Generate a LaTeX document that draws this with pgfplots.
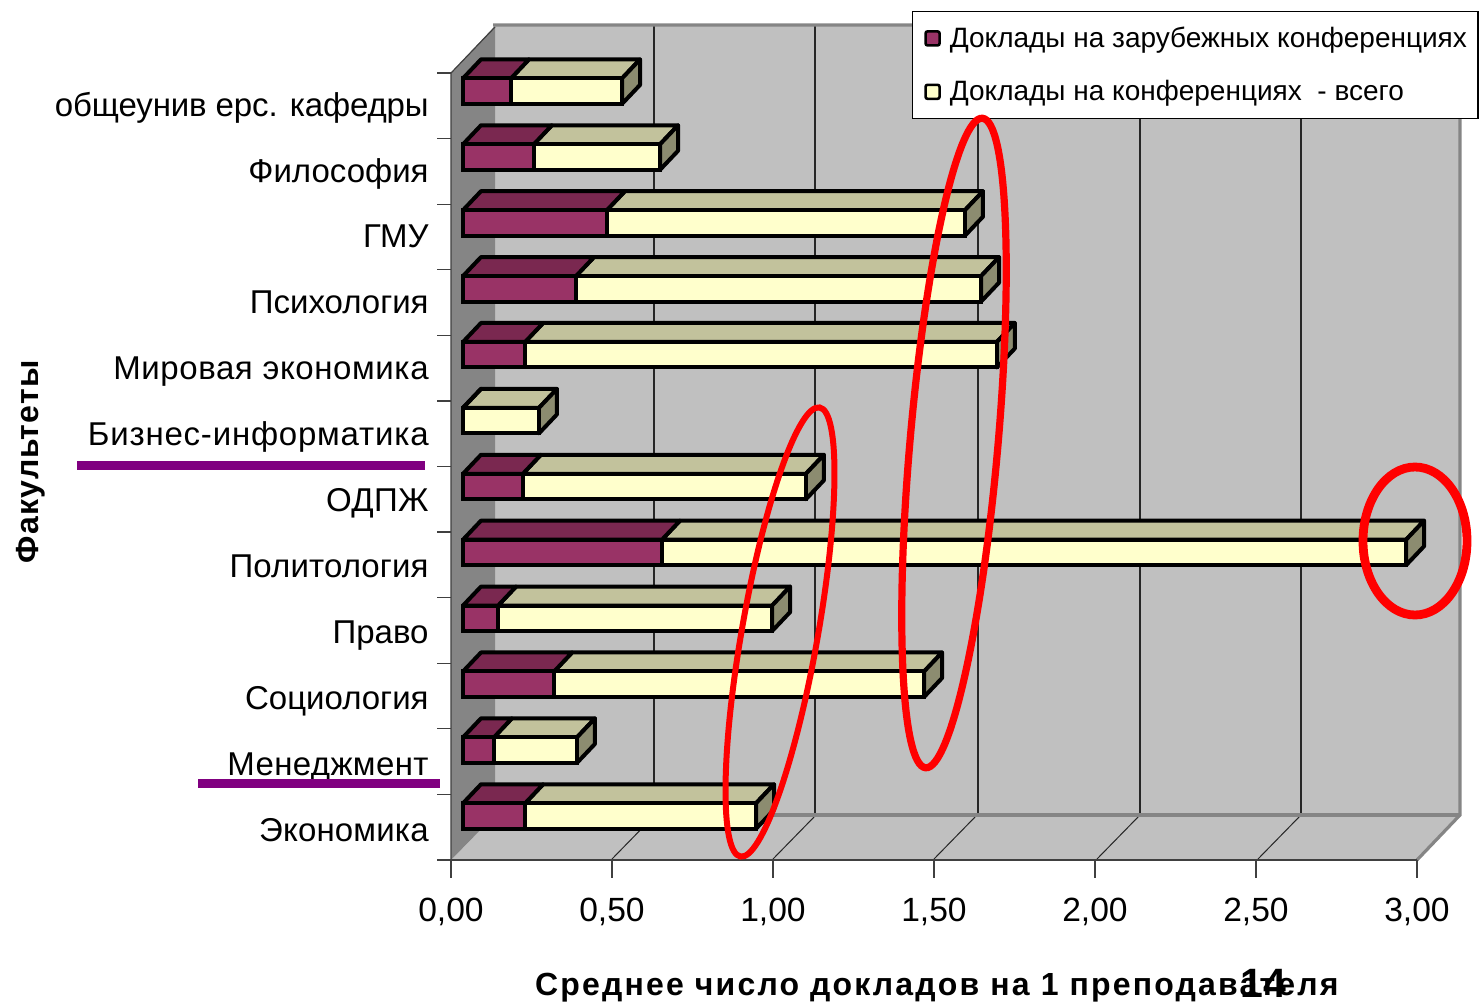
\documentclass[border=0pt]{standalone}
\usepackage{pgfplots}
\pgfplotsset{compat=1.18}
\usepackage{pgfplotstable}
\usepackage{fontspec}
\setmainfont{Liberation Sans}
\definecolor{wallB}{HTML}{C0C0C0}
\definecolor{wallL}{HTML}{858585}
\definecolor{edgeG}{HTML}{858585}
\definecolor{frontP}{HTML}{993366}
\definecolor{topP}{HTML}{7A2850}
\definecolor{frontY}{HTML}{FFFFCC}
\definecolor{topY}{HTML}{C2C29C}
\definecolor{sideY}{HTML}{8C8C70}
\definecolor{under}{HTML}{800080}
\pgfplotstableread{
y purple total
11 0.149 0.494
10 0.220 0.612
9 0.447 1.559
8 0.351 1.609
7 0.193 1.658
6 0.000 0.236
5 0.186 1.065
4 0.618 2.929
3 0.109 0.960
2 0.283 1.432
1 0.096 0.354
0 0.193 0.910
}\reportdata
\newcommand\depthbar[3]{%
  \pgfmathsetmacro\yf{#1+0.1935}%
  \pgfmathsetmacro\yb{#1+0.1935+0.288}%
  \pgfmathsetmacro\yl{#1-0.1935}%
  \pgfmathsetmacro\ylb{#1-0.1935+0.288}%
  \pgfmathsetmacro\xo{0.0559}%
  \pgfmathsetmacro\xa{#2+0.0559}%
  \pgfmathsetmacro\xb{#3+0.0559}%
  \addplot[forget plot,fill=topY,draw=black,line width=2pt,line join=round] coordinates {(#2,\yf) (#3,\yf) (\xb,\yb) (\xa,\yb) (#2,\yf)};
  \addplot[forget plot,fill=topP,draw=black,line width=2pt,line join=round] coordinates {(0,\yf) (#2,\yf) (\xa,\yb) (\xo,\yb) (0,\yf)};
  \addplot[forget plot,fill=sideY,draw=black,line width=2pt,line join=round] coordinates {(#3,\yf) (\xb,\yb) (\xb,\ylb) (#3,\yl) (#3,\yf)};
}
\begin{document}
\begin{tikzpicture}
\useasboundingbox (0,0) rectangle (740pt,-501pt);
\begin{scope}[x=0.5pt,y=-0.5pt]
  \fill[wallB] (495,26) rectangle (1460,815);
  \fill[wallB] (451,860) -- (495,815) -- (1460,815) -- (1417,860) -- cycle;
  \fill[wallL] (451,73) -- (495,26) -- (495,815) -- (451,860) -- cycle;
  \foreach \gx in {654,815,978,1140,1301}
    \draw[black!85,line width=0.75pt] (\gx,26) -- (\gx,815);
  \foreach \a/\b in {612/654,773/815,934/976,1097/1139,1258/1300}
    \draw[black!85,line width=0.5pt] (\a,859) -- (\b,816);
  \draw[edgeG,line width=1.6pt] (493,25) -- (1460,25) -- (1460,815) -- (1417,860);
  \draw[edgeG,line width=1.6pt] (495,815) -- (1460,815);
  \draw[black!75,line width=0.6pt] (451,860) -- (451,73) -- (495,27);
  \draw[black!75,line width=1pt] (437,860) -- (1417,860);
  \foreach \k in {0,...,12}
    \draw[black!75,line width=0.6pt] (437,{73+65.58*\k}) -- (451,{73+65.58*\k});
  \foreach \k in {0,...,6}
    \draw[black!75,line width=0.6pt] ({451+322*0.5*\k},860) -- ({451+322*0.5*\k},878);
\end{scope}
\begin{axis}[
  at={(0,0)},anchor=north west,
  scale only axis,width=740pt,height=501pt,
  xmin=-1.4379,xmax=3.1584,ymin=-2.8225,ymax=12.3824,
  clip=false,
  axis line style={draw=none},
  major tick length=0pt,tick style={draw=none},
  xtick={-0.0373,0.4627,0.9627,1.4627,1.9627,2.4627,2.9627},
  xticklabels={{0,00},{0,50},{1,00},{1,50},{2,00},{2,50},{3,00}},
  xticklabel style={font=\fontsize{16.8}{18}\selectfont,anchor=base,yshift=40.5pt,inner sep=0pt},
  ytick={0,...,11},
  yticklabels={{\addfontfeature{LetterSpace=0.5}Экономика},{\addfontfeature{LetterSpace=1.2}Менеджмент},Социология,Право,{\addfontfeature{LetterSpace=0.4}Политология},{\addfontfeature{LetterSpace=1}ОДПЖ\hspace{2pt}},{\addfontfeature{LetterSpace=2.4}Бизнес-информатика},{\addfontfeature{LetterSpace=1.8}Мировая экономика},Психология,ГМУ,Философия,{\addfontfeature{LetterSpace=-0.4}общеунив ерс. кафедры}},
  yticklabel style={font=\fontsize{16.5}{18}\selectfont,anchor=base east,xshift=214.5pt,yshift=-12.5pt,inner sep=0pt},
  xlabel={\addfontfeature{LetterSpace=6.8}Среднее число докладов на 1 преподавателя},
  xlabel style={font=\fontsize{16}{18}\bfseries\selectfont,at={(axis description cs:0.633,0.0140)},anchor=center,inner sep=0pt},
  ylabel={\addfontfeature{LetterSpace=4}Факультеты},
  ylabel style={font=\fontsize{16}{18}\bfseries\selectfont,at={(axis description cs:0.0209,0.539)},anchor=center,rotate=0,inner sep=0pt},
  reverse legend,
  legend cell align=left,
  legend style={at={(axis description cs:0.6162,0.989)},anchor=north west,font=\fontsize{14}{16}\selectfont,draw=black,line width=0.6pt,fill=white,row sep=11pt,inner xsep=3.5pt,inner ysep=5.5pt},
]
\depthbar{11}{0.149}{0.494}
\depthbar{10}{0.220}{0.612}
\depthbar{9}{0.447}{1.559}
\depthbar{8}{0.351}{1.609}
\depthbar{7}{0.193}{1.658}
\depthbar{6}{0.000}{0.236}
\depthbar{5}{0.186}{1.065}
\depthbar{4}{0.618}{2.929}
\depthbar{3}{0.109}{0.960}
\depthbar{2}{0.283}{1.432}
\depthbar{1}{0.096}{0.354}
\depthbar{0}{0.193}{0.910}
\addplot[xbar,bar shift=0pt,bar width=12.75pt,fill=frontY,draw=black,line width=2pt,
  legend image code/.code={\path[draw=none,fill=none] (-3pt,0pt) -- (7pt,0pt);\draw[line width=1.3pt,rounded corners=1pt,draw=black,fill=frontY] (0pt,-3.5pt) rectangle (7pt,3.5pt);}]
  table[x=total,y=y] {\reportdata};
\addlegendentry{\hspace{2.5pt}Доклады на конференциях\ \ - всего}
\addplot[xbar,bar shift=0pt,bar width=12.75pt,fill=frontP,draw=black,line width=2pt,
  legend image code/.code={\path[draw=none,fill=none] (-3pt,0pt) -- (7pt,0pt);\draw[line width=1.3pt,rounded corners=1pt,draw=black,fill=frontP] (0pt,-3.5pt) rectangle (7pt,3.5pt);}]
  table[x=purple,y=y] {\reportdata};
\addlegendentry{\hspace{2.5pt}Доклады на зарубежных конференциях\hspace{10pt}}
\end{axis}
\begin{scope}[x=0.5pt,y=-0.5pt]
  \fill[under] (77,461) rectangle (425,470);
  \fill[under] (198,779) rectangle (440,788);
\end{scope}
\draw[red,line width=3.6pt,shift={(477pt,-221.5pt)},rotate=-5] (0,0) ellipse (22pt and 163pt);
\draw[red,line width=3pt,shift={(390pt,-316pt)},rotate=-10] (0,0) ellipse (19pt and 114pt);
\draw[red,line width=4.4pt] (707.5pt,-270.5pt) ellipse (26pt and 37pt);
\node[font=\fontsize{20.5}{22}\bfseries\selectfont,inner sep=0pt] at (631.5pt,-491.5pt) {14};
\end{tikzpicture}
\end{document}
